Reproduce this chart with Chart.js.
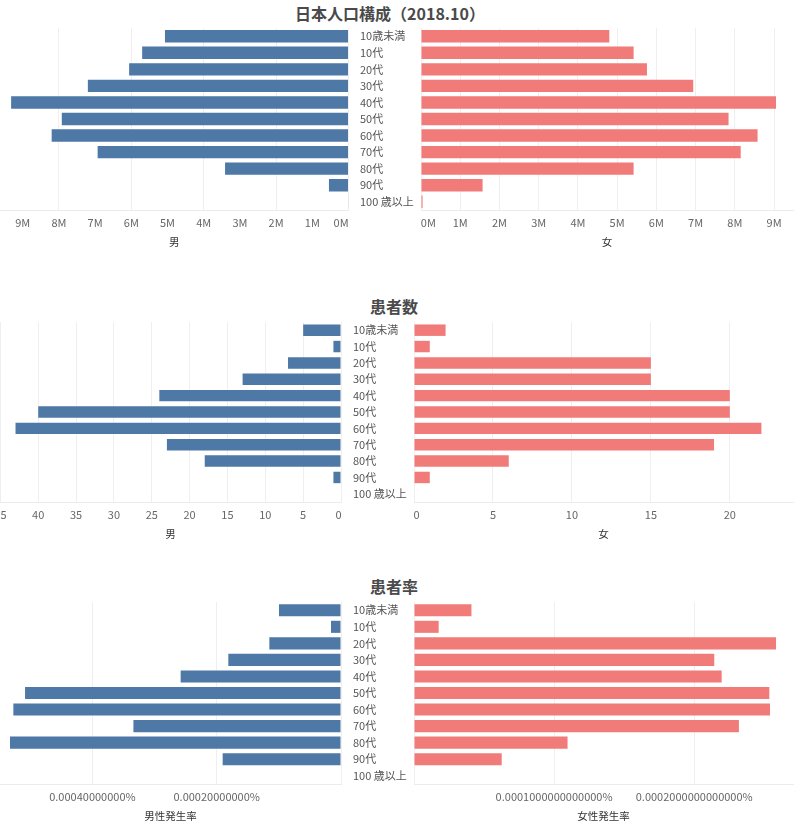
<!DOCTYPE html>
<html>
<head>
<meta charset="utf-8">
<script src="https://cdn.jsdelivr.net/npm/chart.js@4/dist/chart.umd.min.js"></script>
<style>
  html, body { margin: 0; padding: 0; background: #fff; }
  body { width: 800px; height: 822px; position: relative; overflow: hidden;
         font-family: "Noto Sans CJK JP", "Noto Sans", sans-serif; }
  canvas { position: absolute; }
  .title { position: absolute; transform: translateX(-50%); white-space: nowrap;
           font-size: 16px; font-weight: bold; color: #4a4a4a; line-height: 20px; }
</style>
</head>
<body>
<div class="title" id="t1" style="left:390px; top:3px;">日本人口構成（2018.10）</div>
<div class="title" id="t2" style="left:394px; top:296px;">患者数</div>
<div class="title" id="t3" style="left:394px; top:576px;">患者率</div>

<canvas id="c1m" style="left:0px; top:20px;" width="430" height="232"></canvas>
<canvas id="c1f" style="left:391px; top:20px;" width="409" height="232"></canvas>
<canvas id="c2m" style="left:0px; top:314px;" width="430" height="230"></canvas>
<canvas id="c2f" style="left:384px; top:314px;" width="416" height="230"></canvas>
<canvas id="c3m" style="left:0px; top:594px;" width="430" height="232"></canvas>
<canvas id="c3f" style="left:384px; top:594px;" width="416" height="232"></canvas>

<script>
// ---- data ----
const ageGroups = ['10歳未満', '10代', '20代', '30代', '40代', '50代', '60代', '70代', '80代', '90代', '100 歳以上'];

const malePopulation   = [5070000, 5700000, 6060000, 7200000, 9320000, 7920000, 8200000, 6930000, 3410000, 540000, 10000];
const femalePopulation = [4800000, 5420000, 5760000, 6940000, 9050000, 7840000, 8580000, 8150000, 5420000, 1570000, 40000];

const malePatients   = [5, 1, 7, 13, 24, 40, 43, 23, 18, 1, 0];
const femalePatients = [2, 1, 15, 15, 20, 20, 22, 19, 6, 1, 0];

// incidence rate, in percent
const maleRate   = [0.0000998, 0.0000161, 0.0001153, 0.0001813, 0.000258, 0.0005084, 0.0005272, 0.000334, 0.0005326, 0.0001904, 0];
const femaleRate = [0.000041, 0.0000176, 0.0002584, 0.0002143, 0.0002196, 0.0002536, 0.0002541, 0.0002319, 0.0001096, 0.0000626, 0];

// tick values of the value axes
const populationTicks     = [0, 1000000, 2000000, 3000000, 4000000, 5000000, 6000000, 7000000, 8000000, 9000000];
const malePatientTicks    = [0, 5, 10, 15, 20, 25, 30, 35, 40, 45];
const femalePatientTicks  = [0, 5, 10, 15, 20];
const maleRateTicks       = [0, 0.0002, 0.0004];
const femaleRateTicks     = [0, 0.0001, 0.0002];

const axisTitles = { pop: ['男', '女'], patients: ['男', '女'], rate: ['男性発生率', '女性発生率'] };

// ---- style ----
const FONT = '"Noto Sans CJK JP", "Noto Sans", sans-serif';
const MALE_COLOR = '#4e79a7';
const FEMALE_COLOR = '#f07b79';
const GRID = '#efefef';
const TICK_COLOR = '#666666';
const CAT_COLOR = '#555555';

Chart.defaults.font.family = FONT;
Chart.defaults.animation = false;

const measureCtx = document.createElement('canvas').getContext('2d');
measureCtx.font = '11px ' + FONT;
function edgeLabel(text, side) {
  const w = measureCtx.measureText(text).width;
  const sp = measureCtx.measureText(' ').width;
  const n = Math.max(0, Math.round(w / sp));
  return side === 'left' ? text + ' '.repeat(n) : ' '.repeat(n) + text;
}

function makeChart(id, cfg) {
  const male = cfg.male;
  const xScale = {
    type: 'linear',
    reverse: male,
    min: 0,
    max: cfg.max,
    afterBuildTicks: s => { s.ticks = cfg.ticks.map(v => ({ value: v })); },
    ticks: {
      autoSkip: false,
      maxRotation: 0,
      padding: 6,
      color: TICK_COLOR,
      font: { size: 11 },
      callback: cfg.tickFmt
    },
    grid: {
      color: cfg.gridColor || GRID,
      drawTicks: false,
      lineWidth: 1
    },
    border: { display: true, color: '#ececec' },
    title: {
      display: true,
      text: cfg.title,
      color: '#333333',
      font: { size: 10.5 },
      padding: { top: 0, bottom: 4 }
    },
    afterFit: s => { s.height = 42; s.paddingLeft = 0; s.paddingRight = 0; }
  };
  const yScale = {
    type: 'category',
    position: 'right',
    display: male,
    grid: { display: false, drawTicks: false },
    border: { display: false },
    ticks: {
      autoSkip: false,
      padding: cfg.catPad || 12,
      color: CAT_COLOR,
      font: { size: 11 }
    },
    afterFit: s => { s.width = cfg.yWidth || 0; s.paddingTop = 0; s.paddingBottom = 0; }
  };
  return new Chart(document.getElementById(id), {
    type: 'bar',
    data: {
      labels: ageGroups,
      datasets: [{
        data: cfg.data,
        backgroundColor: male ? MALE_COLOR : FEMALE_COLOR,
        borderWidth: 0,
        barPercentage: cfg.barPct,
        categoryPercentage: 1
      }]
    },
    options: {
      indexAxis: 'y',
      responsive: false,
      animation: false,
      layout: { padding: male ? { top: 8, left: 0, right: 0, bottom: 0 } : { top: 8, left: 30, right: 7, bottom: 0 } },
      plugins: { legend: { display: false }, tooltip: { enabled: false } },
      scales: { x: xScale, y: yScale }
    }
  });
}

const fmtM = side => v => v === 0 ? edgeLabel('0M', side) : Math.round(v / 1e6) + 'M';
const fmtN = side => v => v === 0 ? edgeLabel('0', side) : String(v);

// Row 1: population
makeChart('c1m', {
  male: true, data: malePopulation, max: 9627000, ticks: populationTicks, title: axisTitles.pop[0],
  tickFmt: fmtM('left'), yWidth: 430 - 348.5, catPad: 11.5, barPct: 0.75,
  gridColor: ctx => (ctx.tick && Math.round(ctx.tick.value / 1e6) % 2 === 0) ? GRID : 'rgba(0,0,0,0)'
});
makeChart('c1f', {
  male: false, data: femalePopulation, max: 9483000, ticks: populationTicks, title: axisTitles.pop[1],
  tickFmt: fmtM('right'), barPct: 0.75
});

// Row 2: patients
makeChart('c2m', {
  male: true, data: malePatients, max: 45.05, ticks: malePatientTicks, title: axisTitles.patients[0],
  tickFmt: fmtN('left'), yWidth: 430 - 341, catPad: 12, barPct: 0.7
});
makeChart('c2f', {
  male: false, data: femalePatients, max: 24, ticks: femalePatientTicks, title: axisTitles.patients[1],
  tickFmt: fmtN('right'), barPct: 0.7
});

// Row 3: incidence rate
makeChart('c3m', {
  male: true, data: maleRate, max: 0.0005487, ticks: maleRateTicks, title: axisTitles.rate[0],
  tickFmt: v => v === 0 ? '' : v.toFixed(11) + '%', yWidth: 430 - 341, catPad: 12, barPct: 0.73
});
makeChart('c3f', {
  male: false, data: femaleRate, max: 0.0002705, ticks: femaleRateTicks, title: axisTitles.rate[1],
  tickFmt: v => v === 0 ? '' : v.toFixed(16) + '%', barPct: 0.73
});
</script>
</body>
</html>
